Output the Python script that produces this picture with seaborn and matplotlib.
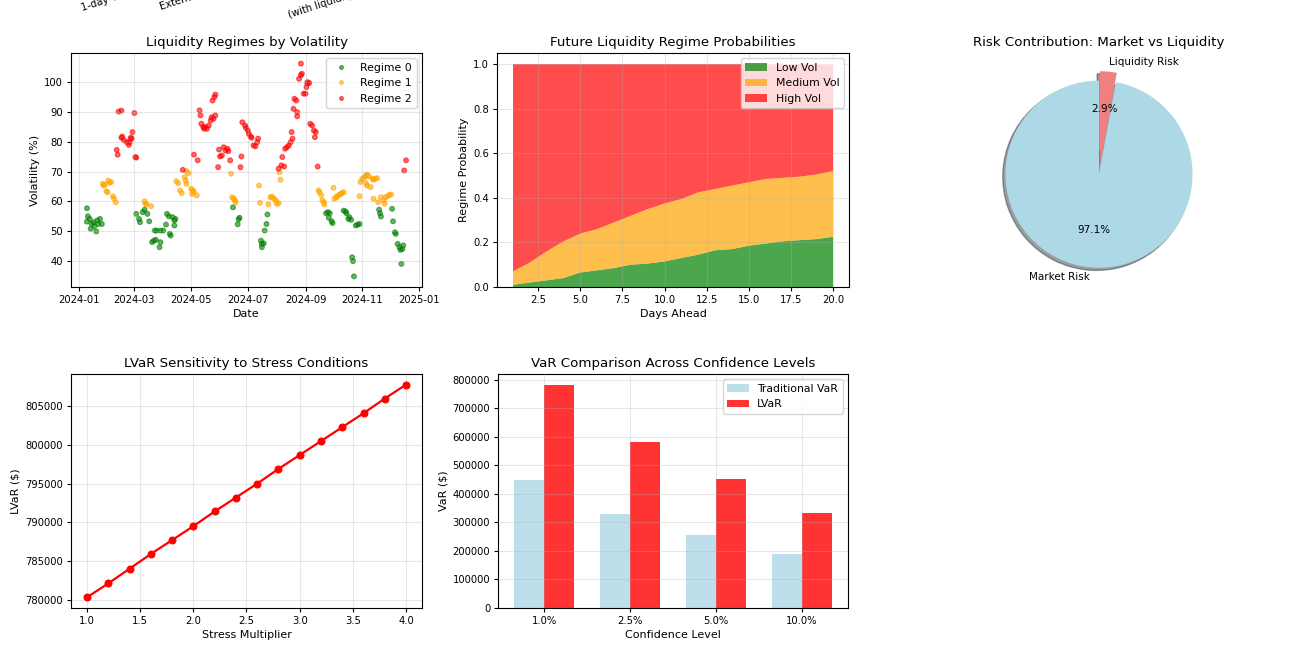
import numpy as np
import pandas as pd
import seaborn as sns
import matplotlib.pyplot as plt
import matplotlib.dates as mdates

# ---- regime scatter data (day offset from 2024-01-01, volatility %) ----
r0_days = [9, 10, 9, 12, 13, 14, 16, 17, 19, 20, 21, 23, 25,
           62, 65, 66, 69, 71, 74, 76,
           79, 81, 82, 83, 84, 88, 87, 88, 91, 94,
           95, 97, 101, 103, 104, 103, 98, 99,
           166, 171, 173, 172,
           203, 202, 200, 196, 197, 199, 197,
           266, 268, 270, 269, 272, 273,
           285, 287, 288, 290, 291, 293, 298, 300, 302, 294, 295, 296,
           323, 324, 325, 337, 338, 340, 341, 343, 345, 346, 348, 349, 347]
r0_vol = [57.7, 55.0, 53.2, 54.1, 50.8, 52.4, 53.0, 51.6, 49.9, 53.6, 52.4, 54.1, 52.4,
          55.8, 54.1, 53.0, 56.4, 57.2, 55.8, 53.3,
          46.3, 46.8, 50.2, 47.1, 50.2, 46.3, 44.6, 50.2, 50.2, 52.2,
          55.8, 55.0, 54.7, 53.6, 54.1, 51.9, 49.1, 48.5,
          58.0, 52.3, 54.5, 54.0,
          55.6, 52.4, 50.2, 46.8, 45.7, 45.9, 44.6,
          56.0, 56.4, 56.0, 54.5, 53.3, 52.7,
          56.9, 56.6, 56.0, 54.1, 54.7, 53.8, 51.9, 52.2, 52.4, 41.2, 39.9, 34.8,
          57.2, 56.0, 54.9, 57.5, 53.3, 49.6, 49.1, 45.7, 44.6, 43.7, 44.0, 45.2, 39.0]

r1_days = [26, 27, 28, 32, 35, 31, 30, 37, 38, 40, 33,
           71, 72, 73, 78,
           105, 107, 109, 111, 114, 115, 116, 118, 116, 121, 123, 124, 127, 122,
           164, 165, 167, 169, 168,
           194, 195, 204, 206, 208, 210, 212, 213, 215, 216, 217,
           258, 259, 261, 262, 264, 264,
           274, 275, 277, 278, 280, 282, 283, 285,
           302, 303, 305, 307, 309, 310, 312, 309, 310, 314, 316, 317, 319, 321,
           317, 322, 325, 328, 329, 330, 332, 334, 336]
r1_vol = [65.9, 65.3, 65.6, 67.0, 66.5, 63.1, 63.4, 61.7, 60.9, 59.7, 66.2,
          60.0, 59.2, 59.0, 58.4,
          66.8, 66.1, 63.7, 62.8, 68.1, 67.0, 65.9, 69.5, 70.2, 64.2, 63.7, 63.1, 62.0, 62.5,
          69.3, 61.4, 60.9, 59.7, 60.3,
          65.3, 59.5, 59.0, 61.4, 61.6, 60.9, 60.3, 59.2, 59.4, 69.8, 67.3,
          63.7, 63.1, 62.0, 60.3, 59.0, 59.7,
          64.6, 60.9, 61.4, 61.7, 62.2, 62.5, 62.8, 63.1,
          61.7, 66.5, 67.6, 68.1, 68.7, 69.0, 68.4, 66.1, 65.3, 64.8, 67.6, 67.3, 67.6, 67.8,
          60.9, 59.7, 61.4, 60.3, 59.2, 61.4, 61.7, 62.2, 62.3]

r2_days = [41, 42, 43, 46, 46, 47, 49, 52, 54, 55, 56, 57, 58, 60, 61, 62,
           112, 124, 128, 130, 131, 132, 134, 135, 136, 138, 140, 142, 143, 145, 147,
           144, 146, 147, 150, 151, 152, 154, 156, 158, 160, 161, 163,
           174, 176, 175, 179, 180, 182, 183, 185, 186, 188, 190, 192, 193,
           215, 218, 221, 219, 222, 224, 226, 228, 230, 229, 231, 232, 234, 235, 235,
           237, 239, 240, 239, 242, 244, 245, 246, 248, 246, 249, 251, 253, 254, 255, 257,
           350, 352]
r2_vol = [77.3, 75.7, 90.2, 90.5, 81.4, 81.8, 80.5, 79.9, 79.0, 79.9, 81.4, 81.1, 83.3, 89.7, 74.9, 74.7,
          70.6, 75.7, 73.8, 90.6, 88.9, 86.1, 85.0, 84.4, 85.0, 84.4, 85.5, 87.2, 88.3, 87.8, 88.9,
          93.9, 95.1, 95.9, 71.5, 77.4, 75.1, 75.4, 78.2, 77.1, 77.7, 76.9, 73.8,
          71.5, 86.6, 75.1, 85.5, 84.7, 83.8, 82.7, 81.8, 81.4, 78.8, 78.5, 79.9, 81.1,
          71.0, 72.1, 71.7, 74.9, 77.7, 78.2, 78.8, 79.9, 81.1, 83.3, 91.1, 94.5, 93.9, 90.0, 88.6,
          101.2, 102.4, 102.9, 106.3, 96.2, 96.2, 98.4, 99.6, 99.8, 100.1, 86.1, 85.5, 83.8, 81.6, 83.3, 71.7,
          70.4, 73.8]

# ---- regime forecast probabilities ----
days_ahead = list(range(1, 21))
p_low = [0.01, 0.02, 0.03, 0.04, 0.065, 0.075, 0.085, 0.10, 0.105, 0.115,
         0.13, 0.145, 0.165, 0.17, 0.185, 0.195, 0.205, 0.21, 0.215, 0.225]
p_med = [0.06, 0.09, 0.13, 0.165, 0.175, 0.185, 0.205, 0.22, 0.245, 0.26,
         0.265, 0.28, 0.275, 0.285, 0.285, 0.29, 0.285, 0.285, 0.29, 0.295]
p_high = [0.93, 0.89, 0.84, 0.795, 0.76, 0.74, 0.71, 0.68, 0.65, 0.625,
          0.605, 0.575, 0.56, 0.545, 0.53, 0.515, 0.51, 0.505, 0.495, 0.48]

# ---- risk split ----
risk_labels = ['Market Risk', 'Liquidity Risk']
risk_share = [97.1, 2.9]

# ---- stress sensitivity ----
stress_mult = [1.0, 1.2, 1.4, 1.6, 1.8, 2.0, 2.2, 2.4, 2.6, 2.8, 3.0, 3.2, 3.4, 3.6, 3.8, 4.0]
lvar_stress = [780300, 782100, 784000, 785900, 787700, 789500, 791400, 793200,
               795000, 796900, 798700, 800500, 802300, 804100, 806000, 807800]

# ---- VaR by confidence level ----
conf_levels = ['1.0%', '2.5%', '5.0%', '10.0%']
trad_var = [447000, 330000, 257000, 189000]
lvar_vals = [780300, 580000, 453000, 332000]

plt.rcParams.update({
    'font.size': 8,
    'axes.titlesize': 9.6,
    'axes.labelsize': 8,
    'xtick.labelsize': 7.2,
    'ytick.labelsize': 7.2,
    'legend.fontsize': 7.8,
    'axes.titlepad': 4.8,
    'axes.labelpad': 3.2,
    'xtick.major.size': 2.8,
    'ytick.major.size': 2.8,
    'xtick.major.pad': 2.8,
    'ytick.major.pad': 2.8,
})

fig = plt.figure(figsize=(13, 6.5), dpi=100)

def box(l, t, r, b):
    return [l / 1300, (650 - b) / 650, (r - l) / 1300, (b - t) / 650]

# tick labels of the row above, cut by the top edge as in the reference
for txt, x, y in [('1-day VaR', 82, 11), ('Extended VaR', 161, 10), ('(with liquidity)', 289, 18)]:
    fig.text(x / 1300, (650 - y) / 650, txt, rotation=18, rotation_mode='anchor',
             ha='left', va='baseline', fontsize=7.2)

# 1) regimes scatter
ax1 = fig.add_axes(box(71, 53, 422, 287))
start = pd.Timestamp('2024-01-01')
frames = []
for i, (d, v) in enumerate([(r0_days, r0_vol), (r1_days, r1_vol), (r2_days, r2_vol)]):
    frames.append(pd.DataFrame({'date': start + pd.to_timedelta(d, unit='D'),
                                'vol': v, 'regime': f'Regime {i}'}))
sc = pd.concat(frames, ignore_index=True)
sns.scatterplot(data=sc, x='date', y='vol', hue='regime',
                hue_order=['Regime 0', 'Regime 1', 'Regime 2'],
                palette=['green', 'orange', 'red'], s=12, alpha=0.6,
                edgecolor='face', linewidth=0.8, ax=ax1)
ax1.legend(loc='upper right', markerscale=0.8)
ax1.xaxis.set_major_locator(mdates.MonthLocator(bymonth=[1, 3, 5, 7, 9, 11]))
ax1.xaxis.set_major_formatter(mdates.DateFormatter('%Y-%m'))
ax1.set_title('Liquidity Regimes by Volatility')
ax1.set_xlabel('Date')
ax1.set_ylabel('Volatility (%)')
ax1.grid(True, alpha=0.3)

# 2) stacked probabilities
ax2 = fig.add_axes(box(497, 53, 849, 287))
ax2.stackplot(days_ahead, p_low, p_med, p_high,
              labels=['Low Vol', 'Medium Vol', 'High Vol'],
              colors=['green', 'orange', 'red'], alpha=0.7)
ax2.set_title('Future Liquidity Regime Probabilities')
ax2.set_xlabel('Days Ahead')
ax2.set_ylabel('Regime Probability')
ax2.legend(loc='upper right')
ax2.grid(True, alpha=0.3)

# 3) pie
ax3 = fig.add_axes(box(923, 53, 1275, 287))
ax3.pie(risk_share, labels=risk_labels, colors=['lightblue', 'lightcoral'],
        autopct='%1.1f%%', startangle=90, explode=(0, 0.1), shadow=True,
        textprops={'fontsize': 7.5})
ax3.set_ylim(-1.25 + 0.045, 1.25 + 0.045)
ax3.set_title('Risk Contribution: Market vs Liquidity')

# 4) stress sensitivity
ax4 = fig.add_axes(box(71, 374, 422, 608))
sns.lineplot(x=stress_mult, y=lvar_stress, color='red', linewidth=1.6, marker='o',
             markersize=5, markeredgecolor='red', ax=ax4)
ax4.set_title('LVaR Sensitivity to Stress Conditions')
ax4.set_xlabel('Stress Multiplier')
ax4.set_ylabel('LVaR ($)')
ax4.grid(True, alpha=0.3)

# 5) VaR comparison bars
ax5 = fig.add_axes(box(498, 374, 848, 608))
bars = pd.DataFrame({
    'level': conf_levels * 2,
    'value': trad_var + lvar_vals,
    'kind': ['Traditional VaR'] * 4 + ['LVaR'] * 4,
})
sns.barplot(data=bars, x='level', y='value', hue='kind', palette=['lightblue', 'red'],
            alpha=0.8, width=0.7, saturation=1, linewidth=0, errorbar=None, ax=ax5)
ax5.set_xlim(-0.535, 3.535)
ax5.legend(loc='upper right')
ax5.set_title('VaR Comparison Across Confidence Levels')
ax5.set_xlabel('Confidence Level')
ax5.set_ylabel('VaR ($)')
ax5.grid(True, alpha=0.3)
ax5.set_axisbelow(False)

fig.savefig('out.png', dpi=100)
